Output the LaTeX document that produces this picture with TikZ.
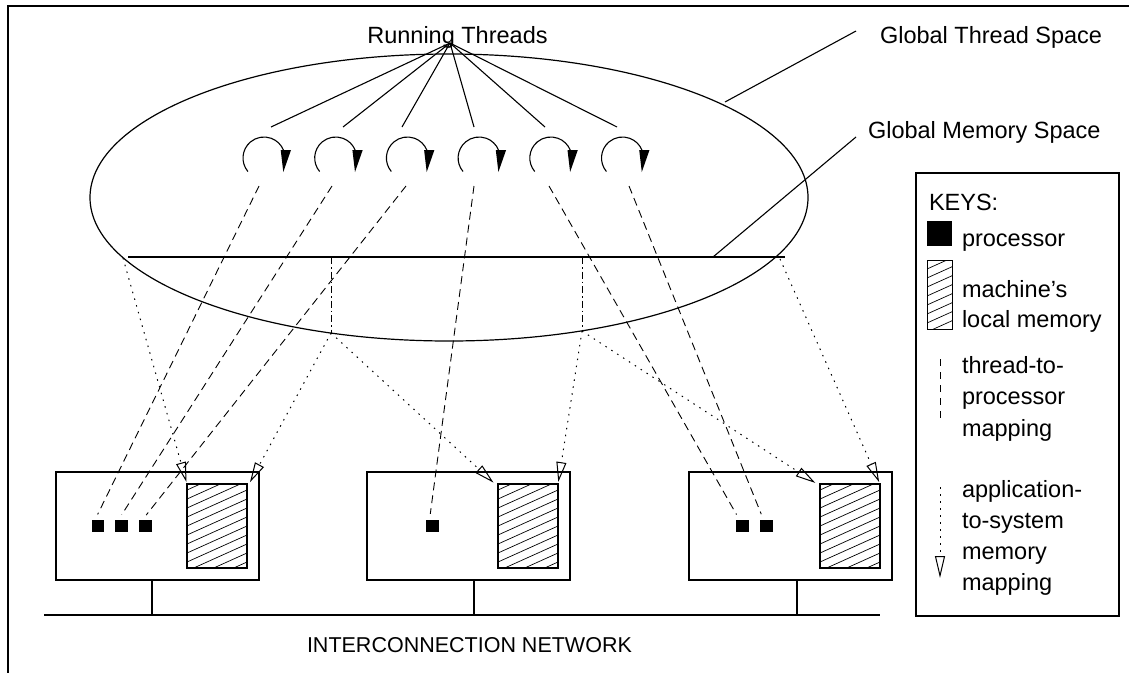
\documentclass[tikz,border=0pt]{standalone}
\usepackage{fontspec}
\setmainfont{Liberation Sans}
\usetikzlibrary{arrows.meta}
\begin{document}
\begin{tikzpicture}[x=1pt,y=-1pt,line width=1.1pt,
  every node/.style={inner sep=0pt,outer sep=0pt},
  txt/.style={font=\fontsize{23.5}{28}\selectfont},
  lbl/.style={txt,anchor=base west},
  proc/.style={fill=black,minimum size=12.5pt},
  hatched/.style={path picture={\foreach \k in {0,...,14}{\draw[line width=0.7pt] (path picture bounding box.south west) ++(0,{30-9*\k}) -- ++(60,-27);}}},
  mem/.style={draw,hatched,minimum width=60pt,minimum height=84pt},
  mach/.style={draw,minimum width=203pt,minimum height=108pt},
  tpmap/.style={line width=0.9pt,dash pattern=on 8pt off 5pt},
  asline/.style={line width=1pt,dash pattern=on 1.5pt off 5.5pt},
  asmap/.style={asline,-{Triangle[open,length=20pt,width=10pt,line width=1pt]}},
  dashdot/.style={line width=0.9pt,dash pattern=on 7pt off 3pt on 1.5pt off 3pt}]
\useasboundingbox (0,0) rectangle (1129,673);
% frame
\draw[line width=1.3pt] (1129,6) -- (8,6) -- (8,673);
% global thread space
\draw[line width=1.2pt] (449,197.5) ellipse [x radius=359, y radius=143.5];
\coordinate (gmL) at (128,257);
\coordinate (gmR) at (785,257);
\draw[line width=1.2pt] (gmL) -- (gmR);
% labels
\node[txt,anchor=base] (rtl) at (457.5,43) {Running Threads};
\node[lbl] (gts) at (880,43) {Global Thread Space};
\node[lbl] (gms) at (868,138) {Global Memory Space};
\coordinate (gtsA) at (725,102); \coordinate (gtsB) at (856,31);
\coordinate (gmsA) at (713,257); \coordinate (gmsB) at (856,137);
\draw (gtsA) -- (gtsB);
\draw (gmsA) -- (gmsB);
% fan lines
\coordinate (rt) at (450,43);
\foreach \x [count=\i] in {271,343,402,474,545,617}{
  \coordinate (f\i) at (\x,127);
  \draw (rt) -- (f\i);
}
% thread loops
\foreach \i in {0,...,5}{
  \pgfmathsetmacro\cx{264+71.7*\i}
  \draw (\cx,158) ++(140:21) arc[start angle=140,end angle=338,radius=21];
  \fill ({\cx+16.7},150) -- ({\cx+27},150) -- ({\cx+19.3},172) -- cycle;
}
% machines
\node[mach] (M1) at (157.5,526) {};
\node[mach] (M2) at (468.5,526) {};
\node[mach] (M3) at (790.5,526) {};
\node[mem] (m1) at (217,526) {};
\node[mem] (m2) at (528,526) {};
\node[mem] (m3) at (850,526) {};
\node[proc] (p1a) at (98,526) {};
\node[proc] (p1b) at (121.5,526) {};
\node[proc] (p1c) at (145.5,526) {};
\node[proc] (p2) at (432.5,526) {};
\node[proc] (p3a) at (742.5,526) {};
\node[proc] (p3b) at (766.5,526) {};
% network
\coordinate (netL) at (44,615);
\coordinate (netR) at (880,615);
\draw (netL) -- (netR);
\foreach \x/\m in {152/M1,474/M2,797/M3}{
  \coordinate (n\m) at (\x,615);
  \draw (n\m |- \m.south) -- (n\m);
}
\node[font=\fontsize{21.5}{26}\selectfont,anchor=base west] (net) at (307,652) {INTERCONNECTION NETWORK};
% thread-to-processor
\foreach \x/\p in {259/p1a,332/p1b,406/p1c,474/p2,549/p3a,629/p3b}{
  \coordinate (t\p) at (\x,186);
  \draw[tpmap,shorten >=6pt] (t\p) -- ([xshift=-3pt]\p.north);
}
% application-to-system memory mapping
\coordinate (sA) at (123,258);
\coordinate (sBt) at (331,257); \coordinate (sB) at (331,333);
\coordinate (sCt) at (582,257); \coordinate (sC) at (582,331);
\coordinate (sD) at (780,259);
\draw[dashdot] (sBt) -- (sB);
\draw[dashdot] (sCt) -- (sC);
\draw[asmap,shorten >=2pt] (sA) -- (m1.north west);
\draw[asmap,shorten >=2pt] (sB) -- ([xshift=2pt]m1.north east);
\draw[asmap,shorten >=2pt] (sB) -- ([xshift=-3pt]m2.north west);
\draw[asmap,shorten >=2pt] (sC) -- (m2.north east);
\draw[asmap,shorten >=2pt] (sC) -- ([xshift=-3pt]m3.north west);
\draw[asmap,shorten >=2pt] (sD) -- (m3.north east);
% keys
\node[draw,minimum width=203pt,minimum height=443pt] (key) at (1017.5,394.5) {};
\node[lbl] (k0) at (929,210) {KEYS:};
\node[proc,minimum size=25pt] (kp) at (939.5,233.5) {};
\node[lbl] (k1) at (962,246) {processor};
\node[draw,hatched,line width=0.9pt,minimum width=25pt,minimum height=69pt] (km) at (939.5,294.5) {};
\node[lbl] (k2) at (962,297) {machine’s};
\node[lbl] (k3) at (962,327) {local memory};
\coordinate (kt1) at (940,359); \coordinate (kt2) at (940,423);
\draw[tpmap,dash pattern=on 7pt off 6pt] (kt1) -- (kt2);
\node[lbl] (k4) at (962,373) {thread-to-};
\node[lbl] (k5) at (962,404) {processor};
\node[lbl] (k6) at (962,436) {mapping};
\coordinate (ka1) at (940,487); \coordinate (ka2) at (940,578);
\draw[asmap,-{Triangle[open,length=22pt,width=10pt,line width=1pt]}] (ka1) -- (ka2);
\node[lbl] (k7) at (962,497) {application-};
\node[lbl] (k8) at (962,528) {to-system};
\node[lbl] (k9) at (962,559) {memory};
\node[lbl] (k10) at (962,590) {mapping};
\end{tikzpicture}
\end{document}
